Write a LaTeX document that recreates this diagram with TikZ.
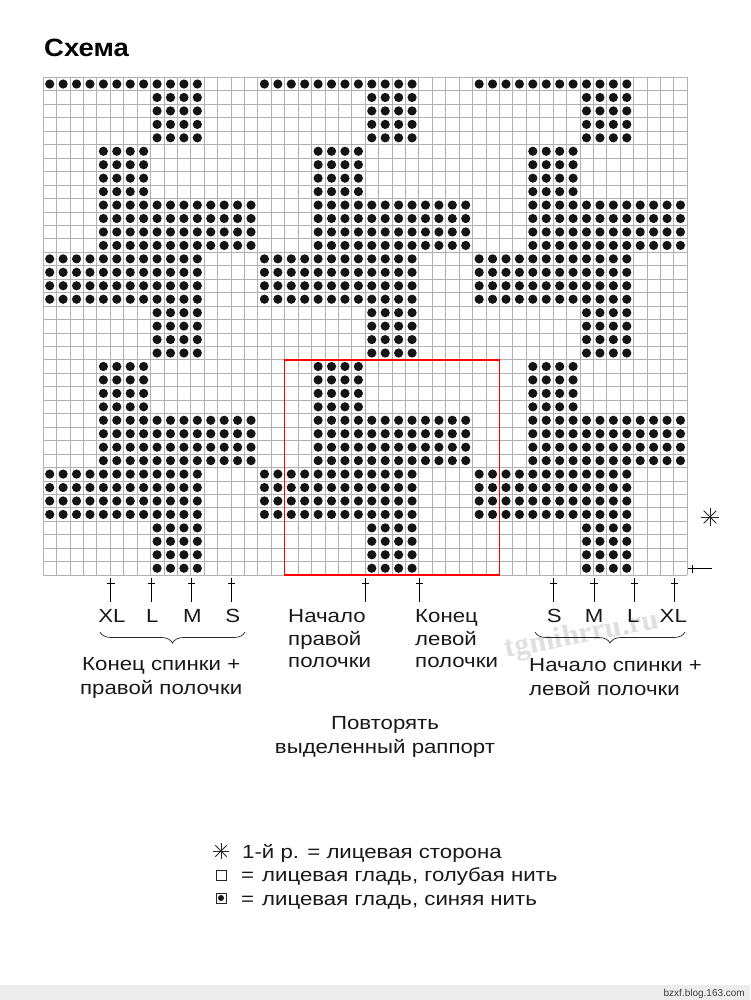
\documentclass[tikz,border=0pt]{standalone}
\usepackage{fontspec}
\setmainfont{Liberation Sans}
\newfontfamily\labfont[FakeStretch=1.17]{Liberation Sans}
\newfontfamily\titfont[FakeStretch=1.1]{Liberation Sans}
\newfontfamily\wmfont{Liberation Serif}
\usetikzlibrary{decorations.pathreplacing}
\begin{document}
\begin{tikzpicture}[x=1pt,y=-1pt,
  gridl/.style={draw=gray!60,line width=0.55pt},
  dotc/.style={fill=black!92},
  ticks/.style={draw=black,line width=0.9pt},
  lbl/.style={font=\labfont\fontsize{19}{22}\selectfont,inner sep=0pt,text=black!90},
  leg/.style={font=\labfont\fontsize{19}{22}\selectfont,inner sep=0pt,text=black!90},
  bracest/.style={draw=black!85,line width=0.7pt,decorate,decoration={brace,mirror,amplitude=11pt}},
  starst/.style={draw=black!85,line width=0.8pt}]
\useasboundingbox (0,0) rectangle (750,1000);
\fill[white] (0,0) rectangle (750,1000);
% title
\node[font=\titfont\bfseries\fontsize{25}{28}\selectfont,anchor=base west,inner sep=0pt] (title) at (44,57) {Схема};
% watermark
\node[font=\wmfont\bfseries\fontsize{30}{30}\selectfont,text=gray!25,rotate=11,inner sep=0pt] (wm) at (582,636) {tgmihrru.ru};
% chart
\begin{scope}[xshift=43pt,yshift=-77.3pt,x=13.42pt,y=-13.45pt]
  \foreach \i in {0,...,48} \draw[gridl] (\i,0) -- (\i,37);
  \foreach \j in {0,...,37} \draw[gridl] (0,\j) -- (48,\j);
  \foreach \p in {0,16,32} {
    \foreach \ca/\cb/\ra/\rb in {0/11/0/0, 8/11/1/4, 4/7/5/8, 4/15/9/12, 0/11/13/16, 8/11/17/20, 4/7/21/24, 4/15/25/28, 0/11/29/32, 8/11/33/36} {
      \foreach \c in {\ca,...,\cb} {
        \foreach \r in {\ra,...,\rb} {
          \fill[dotc] (\p+\c+0.5,\r+0.5) circle (4.6pt);
        }
      }
    }
  }
  \draw[red,line width=1.5pt] (18,21) rectangle (34,37);
  \coordinate (rowmark) at (48,36.5);
\end{scope}
% ticks under the chart
\foreach \k in {5,8,11,14,24,28,38,41,44,47} {
  \pgfmathsetmacro\tx{43+13.42*\k+0.8}
  \draw[ticks] (\tx,577.5) -- (\tx,602);
  \draw[ticks] (\tx-3.6,583.5) -- (\tx+3.6,583.5);
}
% right row marker
\draw[ticks] (688,568.5) -- (712,568.5);
\draw[ticks] (692,564.5) -- (692,572.5);
% asterisk (first row)
\begin{scope}[shift={(710,517)}]
  \foreach \a in {0,45,90,135} \draw[starst] (\a:9) -- (\a+180:9);
\end{scope}
% size labels
\node[lbl,anchor=base] (xl1) at (112,622.5) {XL};
\node[lbl,anchor=base] (l1) at (152.3,622.5) {L};
\node[lbl,anchor=base] (m1) at (192.3,622.5) {M};
\node[lbl,anchor=base] (s1) at (232.7,622.5) {S};
\node[lbl,anchor=base] (s2) at (554.3,622.5) {S};
\node[lbl,anchor=base] (m2) at (594,622.5) {M};
\node[lbl,anchor=base] (l2) at (633.3,622.5) {L};
\node[lbl,anchor=base] (xl2) at (673.3,622.5) {XL};
% middle labels
\node[lbl,anchor=base west] (n1) at (288,622.5) {Начало};
\node[lbl,anchor=base west] (n2) at (288,645) {правой};
\node[lbl,anchor=base west] (n3) at (288,667) {полочки};
\node[lbl,anchor=base west] (k1) at (415,622.5) {Конец};
\node[lbl,anchor=base west] (k2) at (415,645) {левой};
\node[lbl,anchor=base west] (k3) at (415,667) {полочки};
% braces
\draw[bracest] (100,632) -- (245,632);
\draw[bracest] (535,632) -- (685,632);
\node[lbl,anchor=base west] (b1) at (82,670) {Конец спинки +};
\node[lbl,anchor=base west] (b2) at (80,694) {правой полочки};
\node[lbl,anchor=base west] (c1) at (529,671.5) {Начало спинки +};
\node[lbl,anchor=base west] (c2) at (529,695) {левой полочки};
% repeat
\node[lbl,anchor=base] (r1) at (385,729) {Повторять};
\node[lbl,anchor=base] (r2) at (385,753) {выделенный раппорт};
% legend
\begin{scope}[shift={(221,851)}]
  \foreach \a in {0,45,90,135} \draw[starst] (\a:8) -- (\a+180:8);
\end{scope}
\node[leg,anchor=base west] (g1) at (242,858) {1-й р. = лицевая сторона};
\draw[black!85,line width=0.8pt] (216,870) rectangle (226,880);
\node[leg,anchor=base west] (g2) at (241,881) {=\hspace{8pt}лицевая гладь, голубая нить};
\draw[black!85,line width=0.8pt] (216,893) rectangle (226,903);
\fill[black!90] (221,898) circle (3pt);
\node[leg,anchor=base west] (g3) at (241,905) {=\hspace{8pt}лицевая гладь, синяя нить};
% footer
\fill[gray!15] (0,985) rectangle (750,1000);
\node[font=\fontsize{10}{11}\selectfont,anchor=base east,inner sep=0pt,text=black!75] (foot) at (745,996) {bzxf.blog.163.com};
\end{tikzpicture}
\end{document}
